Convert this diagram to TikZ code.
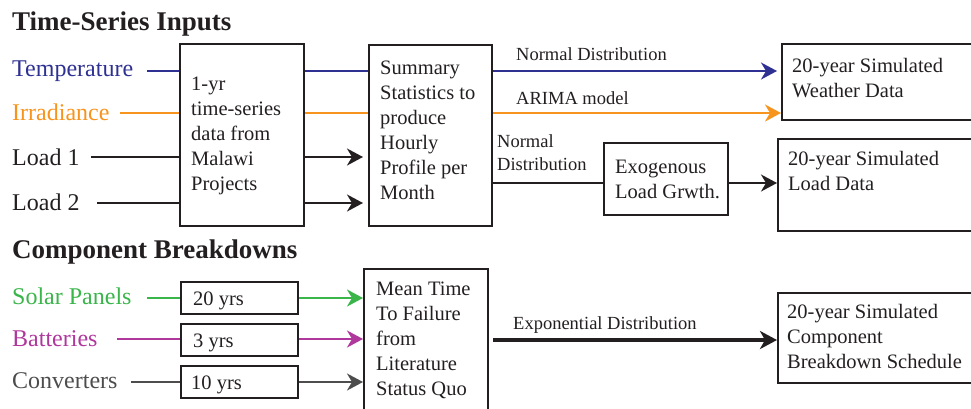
\documentclass[tikz,border=0pt]{standalone}
\usepackage{fontspec}
\setmainfont{Liberation Serif}
\usetikzlibrary{arrows.meta}
\definecolor{ink}{HTML}{231F20}
\definecolor{tblue}{HTML}{2E3192}
\definecolor{torange}{HTML}{F7941D}
\definecolor{tgreen}{HTML}{39B54A}
\definecolor{tmag}{HTML}{B0379C}
\definecolor{tgrey}{HTML}{4D4D4D}
\begin{document}
\begin{tikzpicture}[x=1pt,y=-1pt,
  box/.style={draw=ink,line width=2pt,rectangle,inner sep=0pt,anchor=north west},
  boxtext/.style={anchor=base west,inner sep=0pt,text=ink,font=\fontsize{20.5}{25}\selectfont},
  lbl/.style={anchor=base west,inner sep=0pt,font=\fontsize{24}{28}\selectfont},
  elbl/.style={anchor=base west,inner sep=0pt,text=ink,font=\fontsize{18.5}{23}\selectfont},
  head/.style={anchor=base west,inner sep=0pt,text=ink,font=\fontsize{27}{31}\selectfont\bfseries},
  conn/.style={line width=1.9pt},
  tip/.style={-{Stealth[length=16pt,width=17pt,inset=5pt]}}
]
\useasboundingbox (0,0) rectangle (971,408);
\clip (0,0) rectangle (971,408);

% headers
\node[head] (h1) at (12,30) {Time-Series Inputs};
\node[head] (h2) at (12,258) {Component Breakdowns};

% boxes
\node[box,minimum width=124pt,minimum height=182pt] (raw) at (179,43) {};
\node[box,minimum width=123pt,minimum height=181pt] (summ) at (368,44) {};
\node[box,minimum width=230pt,minimum height=76pt] (weather) at (781,43) {};
\node[box,minimum width=230pt,minimum height=92pt] (loaddata) at (777,138) {};
\node[box,minimum width=124pt,minimum height=72pt] (exo) at (603,142) {};
\node[box,minimum width=117pt,minimum height=32pt] (y20) at (180,281) {};
\node[box,minimum width=117pt,minimum height=32pt] (y3) at (180,323) {};
\node[box,minimum width=117pt,minimum height=32pt] (y10) at (180,365) {};
\node[box,minimum width=124pt,minimum height=170pt] (mttf) at (363,268) {};
\node[box,minimum width=230pt,minimum height=90pt] (sched) at (777,292) {};

% box texts
\node[boxtext] (rawt) at (191,90) {\parbox[t]{120pt}{\raggedright 1-yr\\time-series\\data from\\Malawi\\Projects}};
\node[boxtext] (summt) at (380,74) {\parbox[t]{120pt}{\raggedright Summary\\Statistics to\\produce\\Hourly\\Profile per\\Month}};
\node[boxtext] (weathert) at (792,72) {\parbox[t]{200pt}{\raggedright 20-year Simulated\\Weather Data}};
\node[boxtext] (loaddatat) at (788,165) {\parbox[t]{200pt}{\raggedright 20-year Simulated\\Load Data}};
\node[boxtext] (exot) at (615,173) {\parbox[t]{120pt}{\raggedright Exogenous\\Load Grwth.}};
\node[boxtext] (y20t) at (193,305) {20 yrs};
\node[boxtext] (y3t) at (193,347) {3 yrs};
\node[boxtext] (y10t) at (191,389) {10 yrs};
\node[boxtext] (mttft) at (376,295) {\parbox[t]{120pt}{\raggedright Mean Time\\To Failure\\from\\Literature\\Status Quo}};
\node[boxtext] (schedt) at (787,318) {\parbox[t]{200pt}{\raggedright 20-year Simulated\\Component\\Breakdown Schedule}};

% input labels
\node[lbl,text=tblue] (temp) at (12,76) {Temperature};
\node[lbl,text=torange] (irr) at (12,120) {Irradiance};
\node[lbl,text=ink] (l1) at (12,165) {Load 1};
\node[lbl,text=ink] (l2) at (12,210) {Load 2};
\node[lbl,text=tgreen] (solar) at (12,304) {Solar Panels};
\node[lbl,text=tmag] (batt) at (12,346) {Batteries};
\node[lbl,text=tgrey] (conv) at (12,388) {Converters};

% edge labels
\node[elbl] (e1) at (516,60) {Normal Distribution};
\node[elbl] (e2) at (516,104) {ARIMA model};
\node[elbl] (e3) at (497,147) {Normal};
\node[elbl] (e4) at (497,170) {Distribution};
\node[elbl] (e5) at (513,329) {Exponential Distribution};

% connector start points
\coordinate (cT) at (147,71);
\coordinate (cI) at (120,113);
\coordinate (cL1) at (91,157);
\coordinate (cL2) at (97,203);
\coordinate (cS) at (147,298);
\coordinate (cB) at (117,339);
\coordinate (cC) at (131,382);
\coordinate (cE) at (0,183);
\coordinate (cX) at (0,340);

% time-series connectors
\draw[conn,tblue] (cT) -- (cT -| raw.west);
\draw[conn,tblue] (raw.east |- cT) -- (cT -| summ.west);
\draw[conn,tblue,tip,shorten >=4pt] (summ.east |- cT) -- (cT -| weather.west);
\draw[conn,torange] (cI) -- (cI -| raw.west);
\draw[conn,torange] (raw.east |- cI) -- (cI -| summ.west);
\draw[conn,torange,tip] (summ.east |- cI) -- (cI -| weather.west);
\draw[conn,ink] (cL1) -- (cL1 -| raw.west);
\draw[conn,ink,tip,shorten >=5pt] (raw.east |- cL1) -- (cL1 -| summ.west);
\draw[conn,ink] (cL2) -- (cL2 -| raw.west);
\draw[conn,ink,tip,shorten >=5pt] (raw.east |- cL2) -- (cL2 -| summ.west);
\draw[conn,ink] (summ.east |- cE) -- (exo.west |- cE);
\draw[conn,ink,tip] (exo.east |- cE) -- (loaddata.west |- cE);

% component connectors
\draw[conn,tgreen] (cS) -- (cS -| y20.west);
\draw[conn,tgreen,tip] (y20.east |- cS) -- (cS -| mttf.west);
\draw[conn,tmag] (cB) -- (cB -| y3.west);
\draw[conn,tmag,tip] (y3.east |- cB) -- (cB -| mttf.west);
\draw[conn,tgrey] (cC) -- (cC -| y10.west);
\draw[conn,tgrey,tip] (y10.east |- cC) -- (cC -| mttf.west);
\draw[line width=4.2pt,ink,-{Stealth[length=17pt,width=18pt,inset=5pt]}] ([xshift=4pt]mttf.east |- cX) -- (sched.west |- cX);
\end{tikzpicture}
\end{document}
